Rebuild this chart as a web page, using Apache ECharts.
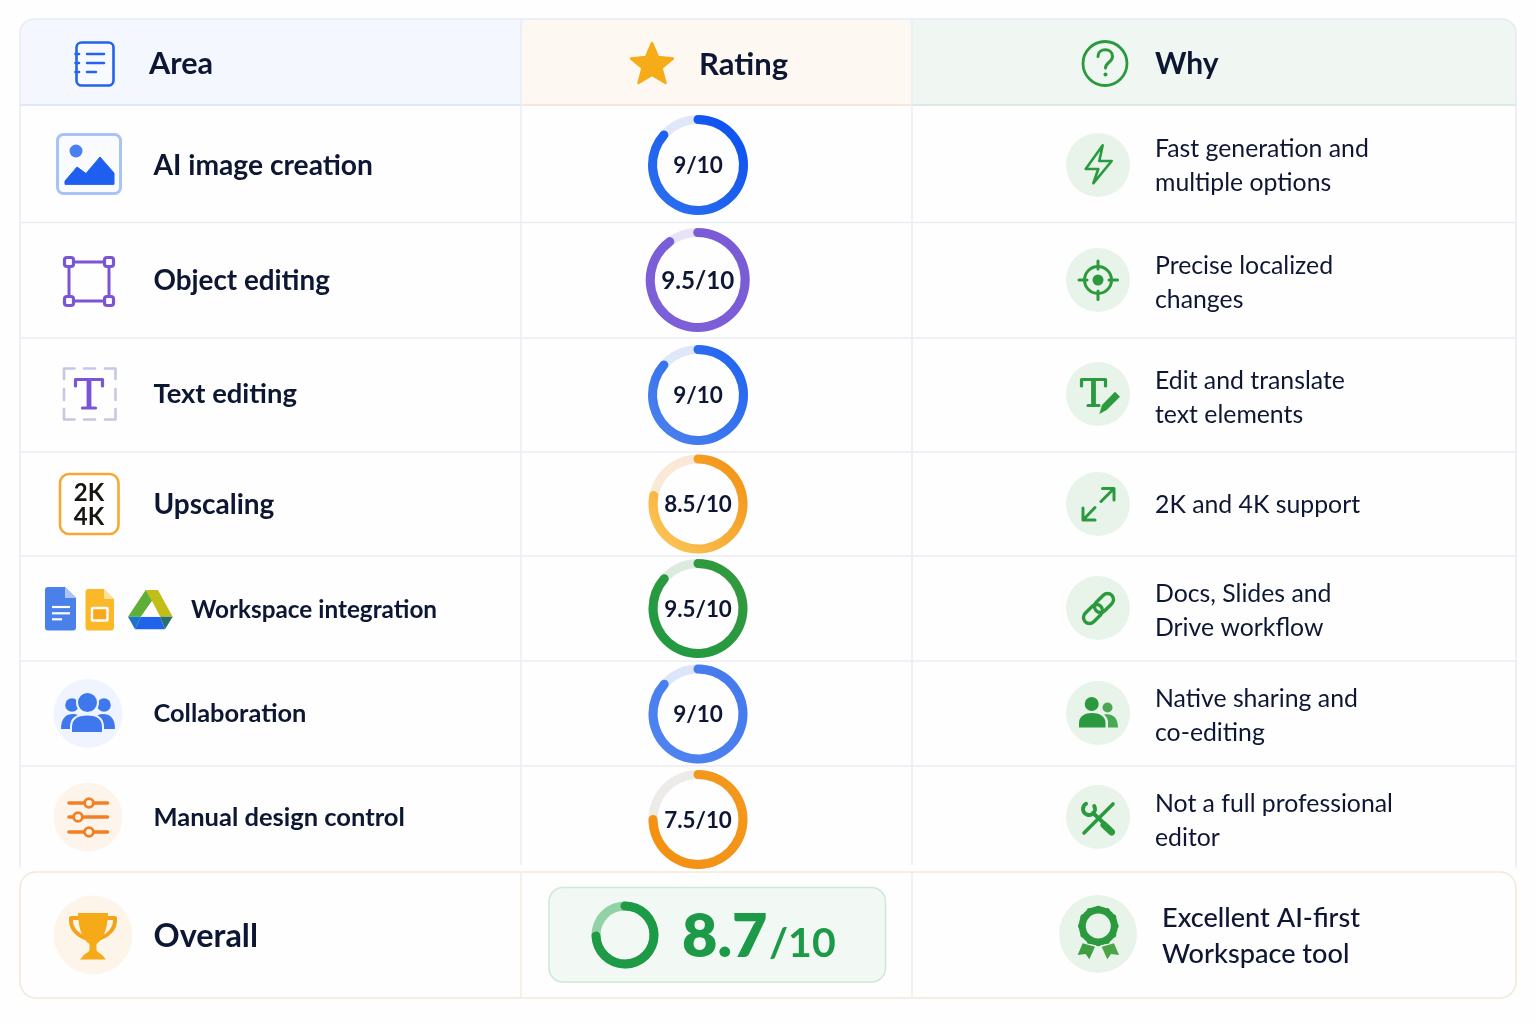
<!DOCTYPE html>
<html>
<head>
<meta charset="utf-8">
<title>Rating table</title>
<script src="https://cdn.jsdelivr.net/npm/echarts@6/dist/echarts.min.js"></script>
<style>
  html, body { margin: 0; padding: 0; background: #fefefe; }
  #chart { width: 1536px; height: 1024px; }
</style>
</head>
<body>
<div id="chart"></div>
<script>
// table content
const headers = ['Area', 'Rating', 'Why'];
const areas = ['AI image creation', 'Object editing', 'Text editing', 'Upscaling', 'Workspace integration', 'Collaboration', 'Manual design control'];
const ratingLabels = ['9/10', '9.5/10', '9/10', '8.5/10', '9.5/10', '9/10', '7.5/10'];
// how far each ring is actually drawn round (not always the same as its label)
const ringFill = [8.65, 9.0, 8.65, 7.8, 8.65, 8.65, 7.5];
const reasons = [
    ['Fast generation and', 'multiple options'],
    ['Precise localized', 'changes'],
    ['Edit and translate', 'text elements'],
    ['2K and 4K support'],
    ['Docs, Slides and', 'Drive workflow'],
    ['Native sharing and', 'co-editing'],
    ['Not a full professional', 'editor']
];
const overallArea = 'Overall';
const overallScore = '8.7';
const overallOutOf = '/10';
const overallFill = 7.45;
const overallReason = ['Excellent AI-first', 'Workspace tool'];

// layout, in page pixels
const rowLines = [222.5, 338, 452, 556, 661, 766];
const labelY = [165, 280, 393, 504, 609, 713, 817];
const labelX = [153.5, 153.5, 153.5, 153.5, 191, 153.5, 153.5];
const labelSize = [28.2, 27.8, 27.4, 28, 24.3, 25.4, 25.5];
const ringX = [698, 697.7, 698, 698, 698, 698, 698];
const ringY = [165, 280, 395, 504, 608.5, 714, 819.5];
const ringR = [50, 52, 50, 49.5, 49.5, 49.5, 49.5];
const ratingSize = [22.5, 24.2, 22.5, 22.4, 22.4, 22.5, 22.4];
const reasonY = [165, 282.5, 397, 504, 610, 715, 820];
const reasonIconY = [165, 280, 394, 504, 608, 713, 817];

// ring colours
const ringColor = [
    ['#0a4ef2', '#2f72ee'], ['#7a5ad6', '#7d60d8'], ['#1d62f0', '#4f84ee'], ['#f28d0e', '#fccb5e'],
    ['#35993d', '#1f9a42'], ['#4479ee', '#4f84f0'], ['#f39a20', '#f48f10']
];
const trackColor = ['#dfe7f8', '#e8e3f6', '#dfe8fa', '#fae9d6', '#dcebe0', '#dce6fa', '#ecebe8'];

const FONT = 'Lato';
const INK = '#0d1633';
const GREEN = '#2b9a3e';

var chartDom = document.getElementById('chart');
var myChart = echarts.init(chartDom, null, { renderer: 'canvas' });
var els = [];
var pathCount = 0;

function rect(x, y, w, h, r, fill, stroke, lw) {
    els.push({ type: 'rect', shape: { x: x, y: y, width: w, height: h, r: r }, style: { fill: fill || 'none', stroke: stroke || 'none', lineWidth: lw || 0 } });
}
function line(x1, y1, x2, y2, stroke, lw, cap) {
    els.push({ type: 'line', shape: { x1: x1, y1: y1, x2: x2, y2: y2 }, style: { stroke: stroke, lineWidth: lw, lineCap: cap || 'butt' } });
}
function circle(x, y, r, fill, stroke, lw) {
    els.push({ type: 'circle', shape: { cx: x, cy: y, r: r }, style: { fill: fill || 'none', stroke: stroke || 'none', lineWidth: lw || 0 } });
}
function poly(points, fill, stroke, lw) {
    els.push({ type: 'polygon', shape: { points: points }, style: { fill: fill, stroke: stroke || 'none', lineWidth: lw || 0, lineJoin: 'round' } });
}
// the graphic component has no path type, so each svg path gets registered as its own shape
function path(d, fill, stroke, lw) {
    var name = 'iconPath' + (pathCount++);
    echarts.graphic.registerShape(name, echarts.graphic.extendPath(d, {}));
    els.push({ type: name, style: { fill: fill || 'none', stroke: stroke || 'none', lineWidth: lw || 0, lineCap: 'round', lineJoin: 'round' } });
}
function text(str, x, y, size, weight, color, align, family) {
    els.push({
        type: 'text', z: 5,
        style: {
            text: str, x: x, y: y + 1, fill: color || INK, fontFamily: family || FONT, fontSize: size, fontWeight: weight,
            align: align || 'left', verticalAlign: 'middle', textAlign: align || 'left', textVerticalAlign: 'middle'
        }
    });
}

// ---- table frame ----
rect(20, 19, 1496, 86, [14, 14, 0, 0], '#f4f7fd');
rect(521, 19, 391, 86, [12, 12, 0, 0], '#fdf8f2');
rect(913, 19, 603, 86, [0, 14, 0, 0], '#f0f7f2');
rect(20, 105, 1496, 762, 0, '#fefefe');
path('M20 867 V33 A14 14 0 0 1 34 19 H1502 A14 14 0 0 1 1516 33 V867', 'none', '#e6ebf4', 1.5);
line(20, 105, 521, 105, '#dfe7f6', 2);
line(521, 105, 912, 105, '#f6e7da', 2);
line(912, 105, 1516, 105, '#dcebe2', 2);
rowLines.forEach(function (y) { line(20, y, 1516, y, '#ebedf4', 1.5); });
line(521, 19, 521, 865, '#e9ecf4', 1.5);
line(912, 19, 912, 865, '#e9ecf4', 1.5);
// overall box
rect(20, 872, 1496, 126, 16, '#fefefe', '#f3e7da', 1.5);
line(521, 872, 521, 998, '#f5ebdf', 1.5);
line(912, 872, 912, 998, '#f5ebdf', 1.5);
rect(549, 887.5, 336.5, 94.5, 14, '#f2f9f4', '#cfe8d7', 1.5);

// ---- header ----
rect(76.5, 42.5, 37, 43, 5, '#f8faff', '#2563eb', 2.6);
[54, 63].forEach(function (y) { line(87, y, 104, y, '#2563eb', 2.4, 'round'); });
line(87, 72, 96, 72, '#2563eb', 2.4, 'round');
[54, 63, 72].forEach(function (y) { line(75.5, y, 79, y, '#2563eb', 2.6, 'round'); });
text(headers[0], 149, 63.5, 30.6, 700);

poly([[652, 43], [658, 57], [673, 58.5], [661.5, 68], [665.5, 83], [652, 75], [638.5, 83], [642.5, 68], [631, 58.5], [646, 57]], '#f6ab18', '#f6ab18', 2.5);
text(headers[1], 699, 63.5, 31, 700);

circle(1105, 63.5, 22, 'none', GREEN, 2.8);
path('M1098 56.5 C1098 47.5 1112.5 47.5 1112.5 56.5 C1112.5 62 1105.5 62.5 1105.5 68', 'none', GREEN, 3);
circle(1105.5, 74.5, 2, GREEN);
text(headers[2], 1155, 63.5, 30, 700);

// ---- left column icons ----
// image
rect(57.5, 134.5, 63, 59, 6, '#f9fbff', '#a8c3f5', 3);
circle(76, 151, 6.5, '#4a80f0');
path('M65 184 V181 L77 167 L86 173.5 L100 157 L114 173 V184 Z', '#1f5fef', '#1f5fef', 1);
// object frame
rect(69, 262, 40, 39, 0, 'none', '#7a55d6', 3);
[[69, 262], [109, 262], [69, 301], [109, 301]].forEach(function (p) {
    rect(p[0] - 4.5, p[1] - 4.5, 9, 9, 2.5, '#ffffff', '#7a55d6', 3.2);
});
// text frame
var dash = '#c5c6e8';
path('M64 379 V368.5 H74.5 M105 368.5 H115.5 V379 M115.5 409 V419.5 H105 M74.5 419.5 H64 V409', 'none', dash, 2.6);
path('M84 368.5 H95 M84 419.5 H95 M64 389 V400 M115.5 389 V400', 'none', dash, 2.6);
path('M75.5 386 V379.5 H102.5 V386 M82.5 408 H95.5', 'none', '#7a55d6', 3.2);
line(89, 380, 89, 408, '#7a55d6', 4.8);
// 2K 4K
rect(60, 474, 58.5, 60, 9, '#ffffff', '#f6a835', 2.6);
text('2K', 89, 492.5, 24, 700, '#1a1410', 'center');
text('4K', 89, 516.5, 24, 700, '#1a1410', 'center');
// docs
path('M48 587 H65 L76 598 V627.5 A3 3 0 0 1 73 630.5 H48 A3 3 0 0 1 45 627.5 V590 A3 3 0 0 1 48 587 Z', '#4a80ea');
poly([[65, 587], [76, 598], [65, 598]], '#a9c4f5');
line(52, 607, 70, 607, '#ffffff', 2.2);
line(52, 613.3, 70, 613.3, '#ffffff', 2.2);
line(52, 619.3, 62, 619.3, '#ffffff', 2.2);
// slides
path('M88 589 H104 L114 599 V627.5 A3 3 0 0 1 111 630.5 H88 A3 3 0 0 1 85.5 627.5 V591.5 A3 3 0 0 1 88 589 Z', '#fbb829');
poly([[104, 589], [114, 599], [104, 599]], '#fde09a');
rect(92, 608, 15.5, 12.5, 1, '#f8a81c', '#ffffff', 2.4);
// drive
poly([[145.7, 590], [158, 590], [172.7, 616.7], [160, 616.7]], '#c3bd17');
poly([[145.7, 590], [152, 601], [141, 616.7], [128, 616.7]], '#5fae37');
poly([[141, 616.7], [160, 616.7], [165, 629.3], [135, 629.3]], '#1f63ea');
poly([[128, 616.7], [141, 616.7], [135, 629.3]], '#1a74c9');
poly([[160, 616.7], [172.7, 616.7], [165, 629.3]], '#27706f');
poly([[152, 601], [160, 616.7], [141, 616.7]], '#ffffff');
// people
circle(88, 713.5, 34.5, '#eff4fe');
var blue = '#3f78ec';
circle(72, 705, 6.8, blue);
circle(104, 705, 6.8, blue);
path('M61 729 C61 718 66 714 73 714 C80 714 85 720 85 729 Z', blue);
path('M115 729 C115 718 110 714 103 714 C96 714 91 720 91 729 Z', blue);
circle(87.5, 702.5, 10.5, blue, '#eff4fe', 2);
path('M71 733 V727 C71 718 78 714.5 87.5 714.5 C97 714.5 103 718 103 727 V733 Z', blue, '#eff4fe', 2);
// sliders
circle(88, 817, 34.5, '#fdf5ec');
[[803, 89], [817, 78], [832, 89]].forEach(function (s) {
    line(69, s[0], 107.5, s[0], '#f47f20', 3.6, 'round');
    circle(s[1], s[0], 4.4, '#fdf5ec', '#f47f20', 2.8);
});
// trophy
circle(93, 935, 39.5, '#fef5ea');
path('M79 918 H71 C70 930 78 935 85 938 M107 918 H115 C116 930 108 935 101 938', 'none', '#f5a21a', 4);
path('M78 913 H108 C108 930 102 941 96.5 944 V950 C96.5 952 102 954 103 956 L106 959.5 H80 L83 956 C84 954 89.5 952 89.5 950 V944 C84 941 78 930 78 913 Z', '#f6aa18');

// ---- area labels ----
areas.forEach(function (name, i) { text(name, labelX[i], labelY[i], labelSize[i], 700); });
text(overallArea, 153.5, 936, 32.4, 700);

// ---- why column icons ----
reasonIconY.forEach(function (y) { circle(1098, y, 32, '#e8f4ea'); });
function gx(v) { return 1040 + v / 3; }
// bolt
path('M1102.7 145.3 L1085.7 169 H1098.3 L1093.3 183.3 L1111.7 161 H1099.3 Z', 'none', GREEN, 2.6);
// target
circle(1098, 280, 13.5, 'none', GREEN, 3);
circle(1098, 280, 5.5, GREEN);
[[1098, 261, 1098, 269], [1098, 291, 1098, 299.5], [1079, 280, 1087, 280], [1109, 280, 1117.5, 280]].forEach(function (s) {
    line(s[0], s[1], s[2], s[3], GREEN, 3, 'round');
});
// T and pencil
path('M1081.5 386 V379.5 H1105.5 V386 M1088 405.5 H1099', 'none', GREEN, 3.2);
line(1093.5, 380, 1093.5, 405.5, GREEN, 4.8);
poly([[gx(178), 340 + 222 / 3], [gx(186), 340 + 195 / 3], [gx(225), 340 + 155 / 3], [gx(240), 340 + 170 / 3], [gx(200), 340 + 210 / 3]], GREEN);
// arrows
path('M1083 508 V520 H1095 M1084 519 L1095 507.5 M1102.5 488.5 H1114 V500 M1113 489.5 L1101 501.5', 'none', GREEN, 3);
// link
els.push({ type: 'rect', x: 1093, y: 614, rotation: Math.PI / 4, shape: { x: -11, y: -6, width: 22, height: 12, r: 6 }, style: { fill: 'none', stroke: GREEN, lineWidth: 3.4 } });
els.push({ type: 'rect', x: 1104, y: 603, rotation: Math.PI / 4, shape: { x: -11, y: -6, width: 22, height: 12, r: 6 }, style: { fill: 'none', stroke: GREEN, lineWidth: 3.4 } });
// people
circle(1091.7, 704, 7, GREEN);
circle(1107.5, 707.5, 5, '#4aa852');
path('M1079 727.5 V723 C1079 716 1085 713 1092 713 C1099 713 1105.5 716 1105.5 723 V727.5 Z', GREEN);
path('M1108 727.5 V722 C1108 719 1106 716 1104 714.5 C1111 713 1118 716 1118 727.5 Z', '#4aa852');
// tools
line(1084, 833, 1113, 804, GREEN, 3.6, 'round');
line(1093, 813, 1110, 829, GREEN, 4, 'round');
line(1104, 825, 1111.5, 832, GREEN, 7, 'round');
path('M1086 803.8 A6 6 0 1 0 1094.2 806', 'none', GREEN, 4);
// badge
circle(1098, 934, 39, '#e8f4ea');
for (var k = 0; k < 12; k++) {
    var a = k * Math.PI / 6;
    circle(1098.3 + 17.3 * Math.cos(a), 926 + 17.3 * Math.sin(a), 3, GREEN);
}
poly([[gx(128), 680 + 790 / 3], [gx(113), 680 + 825 / 3], [gx(137), 680 + 822 / 3], [gx(148), 680 + 838 / 3], [gx(165), 680 + 800 / 3]], '#3f9e42');
poly([[gx(222), 680 + 790 / 3], [gx(237), 680 + 825 / 3], [gx(213), 680 + 822 / 3], [gx(202), 680 + 838 / 3], [gx(185), 680 + 800 / 3]], '#4ca348');
circle(1098.3, 926, 16, '#e8f4ea', GREEN, 7);

// ---- why text ----
reasons.forEach(function (lines, i) {
    if (lines.length === 1) {
        text(lines[0], 1155, reasonY[i], 24.8, 400);
    } else {
        text(lines[0], 1155, reasonY[i] - 17, 24.8, 400);
        text(lines[1], 1155, reasonY[i] + 17, 24.8, 400);
    }
});
text(overallReason[0], 1162, 917.5, 27.1, 500);
text(overallReason[1], 1162, 953.5, 27.1, 500);

// ---- overall score ----
text(overallScore, 682, 936, 61, 800, '#1c9a48');
text(overallOutOf, 769, 943, 41, 700, '#1c9a48');

// ---- rings ----
function ring(value, x, y, r, width, colors, track, label, labelSize) {
    return {
        type: 'gauge',
        center: [x, y],
        radius: r,
        min: 0,
        max: 10,
        startAngle: 90,
        endAngle: -270,
        pointer: { show: false },
        axisTick: { show: false },
        splitLine: { show: false },
        axisLabel: { show: false },
        anchor: { show: false },
        title: { show: false },
        axisLine: { roundCap: false, lineStyle: { width: width, color: [[1, track]] } },
        progress: {
            show: true,
            roundCap: true,
            width: width,
            itemStyle: {
                color: new echarts.graphic.LinearGradient(1, 0, 0, 1, [
                    { offset: 0, color: colors[0] },
                    { offset: 1, color: colors[1] }
                ])
            }
        },
        detail: label ? {
            show: true,
            offsetCenter: [0, 1],
            formatter: function () { return label; },
            fontFamily: FONT,
            fontSize: labelSize,
            fontWeight: 700,
            color: INK
        } : { show: false },
        data: [{ value: value }]
    };
}

var series = ringFill.map(function (v, i) {
    return ring(v, ringX[i], ringY[i], ringR[i], 9, ringColor[i], trackColor[i], ratingLabels[i], ratingSize[i]);
});
series.push(ring(overallFill, 625, 935, 33.5, 9, ['#1c9a45', '#1f9a48'], '#93d2a6', null));

var option = {
    animation: false,
    backgroundColor: '#fefefe',
    graphic: { elements: els.map(function (e) { e.silent = true; return e; }) },
    series: series
};
myChart.setOption(option);
</script>
</body>
</html>
